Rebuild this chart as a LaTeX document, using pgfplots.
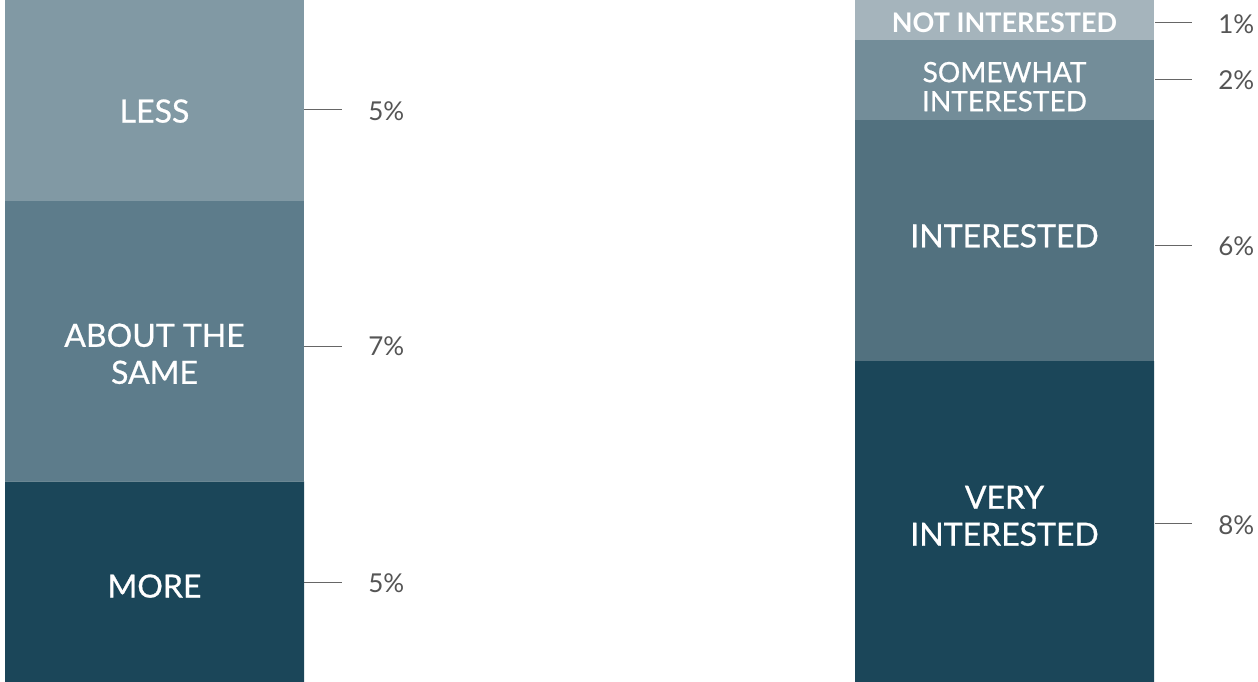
\documentclass[border=0pt]{standalone}
\usepackage{fontspec}
\setmainfont{Lato}
\newfontfamily\medfont{Lato}[FakeBold=0.7]
\usepackage{pgfplots}
\pgfplotsset{compat=1.18}
\definecolor{cDark}{HTML}{1B4659}
\definecolor{cMid}{HTML}{5D7C8B}
\definecolor{cMidR}{HTML}{52717F}
\definecolor{cLight}{HTML}{8199A4}
\definecolor{cLightR}{HTML}{738D99}
\definecolor{cPale}{HTML}{A5B4BC}
\definecolor{cTxt}{HTML}{555555}
\definecolor{cLine}{HTML}{666666}
\begin{document}
\begin{tikzpicture}
\begin{axis}[
  scale only axis, width=629pt, height=341pt,
  xmin=0, xmax=1258, ymin=0, ymax=17,
  hide axis, clip=false,
  ybar stacked, bar width=299,
  every axis plot/.append style={draw=none},
]
% bottom segments
\addplot[fill=cDark] coordinates {(154.5,5) (1004.5,8)};
% second segments
\addplot[fill=cMid] coordinates {(154.5,7) (1004.5,0)};
\addplot[fill=cMidR] coordinates {(154.5,0) (1004.5,6)};
% third segments
\addplot[fill=cLight] coordinates {(154.5,5) (1004.5,0)};
\addplot[fill=cLightR] coordinates {(154.5,0) (1004.5,2)};
% top segment
\addplot[fill=cPale] coordinates {(154.5,0) (1004.5,1)};

\path (rel axis cs:0,0) rectangle (rel axis cs:1,1);

\coordinate (Lless) at (axis cs:154.5,14.23);
\coordinate (Lsame) at (axis cs:154.5,8.18);
\coordinate (Lmore) at (axis cs:154.5,2.39);
\coordinate (Rnot) at (axis cs:1004.5,16.43);
\coordinate (Rsome) at (axis cs:1004.5,14.84);
\coordinate (Rint) at (axis cs:1004.5,11.12);
\coordinate (Rvery) at (axis cs:1004.5,4.14);

% leader lines and values
\tikzset{pl/.style={text=cTxt, font=\fontsize{13}{15}\selectfont, anchor=west, inner sep=0pt}}
\draw[cLine, line width=0.5pt] (axis cs:304,14.27) -- (axis cs:342,14.27);
\node[pl] at (axis cs:368,14.22) {5\%};
\draw[cLine, line width=0.5pt] (axis cs:304,8.37) -- (axis cs:342,8.37);
\node[pl] at (axis cs:368,8.37) {7\%};
\draw[cLine, line width=0.5pt] (axis cs:304,2.47) -- (axis cs:342,2.47);
\node[pl] at (axis cs:368,2.47) {5\%};

\draw[cLine, line width=0.5pt] (axis cs:1155,16.43) -- (axis cs:1192,16.43);
\node[pl] at (axis cs:1218,16.4) {1\%};
\draw[cLine, line width=0.5pt] (axis cs:1155,15.03) -- (axis cs:1192,15.03);
\node[pl] at (axis cs:1218,15.0) {2\%};
\draw[cLine, line width=0.5pt] (axis cs:1155,10.87) -- (axis cs:1192,10.87);
\node[pl] at (axis cs:1218,10.87) {6\%};
\draw[cLine, line width=0.5pt] (axis cs:1155,3.96) -- (axis cs:1192,3.96);
\node[pl] at (axis cs:1218,3.91) {8\%};
\end{axis}
% bar labels, drawn on top of the bars
\tikzset{bl/.style={text=white, font=\medfont\fontsize{16}{18.5}\selectfont, align=center, anchor=center}}
\node[bl] at (Lless) {LESS};
\node[bl] at (Lsame) {ABOUT THE\\SAME};
\node[bl] at (Lmore) {MORE};
\node[text=white, font=\bfseries\fontsize{13.5}{15}\selectfont, anchor=center] at (Rnot) {NOT INTERESTED};
\node[text=white, font=\medfont\fontsize{14}{14.5}\selectfont, align=center, anchor=center] at (Rsome) {SOMEWHAT\\INTERESTED};
\node[bl] at (Rint) {INTERESTED};
\node[bl] at (Rvery) {VERY\\INTERESTED};
\end{tikzpicture}
\end{document}
